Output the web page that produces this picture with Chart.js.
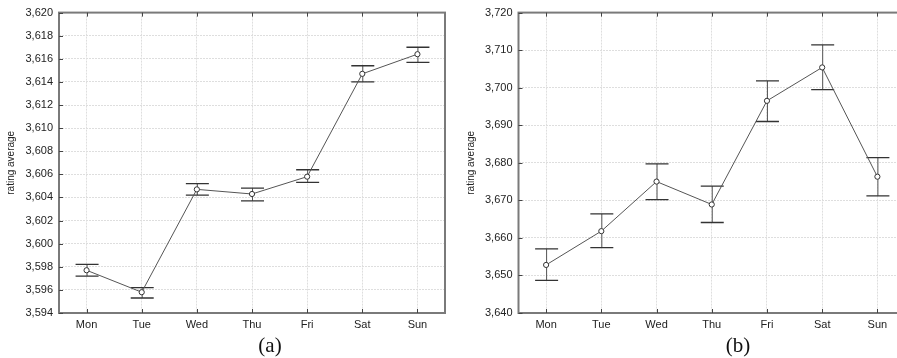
<!DOCTYPE html>
<html>
<head>
<meta charset="utf-8">
<script src="https://cdn.jsdelivr.net/npm/chart.js@4.4.1/dist/chart.umd.min.js"></script>
<style>
  html, body { margin: 0; padding: 0; background: #fff; overflow: hidden; }
  #wrap { position: relative; width: 897px; height: 358px; overflow: hidden; }
  #boxA { position: absolute; left: 0; top: 0; width: 450px; height: 358px; }
  #boxB { position: absolute; left: 450px; top: 0; width: 460px; height: 358px; }
  .cap { position: absolute; top: 333px; font-family: "Liberation Serif", "Times New Roman", serif;
         font-size: 21px; color: #111; transform: translateX(-50%); }
</style>
</head>
<body>
<div id="wrap">
  <div id="boxA"><canvas id="chartA" width="450" height="358"></canvas></div>
  <div id="boxB"><canvas id="chartB" width="460" height="358"></canvas></div>
  <div class="cap" style="left:270px">(a)</div>
  <div class="cap" style="left:738px">(b)</div>
</div>
<script>
var days = ["Mon", "Tue", "Wed", "Thu", "Fri", "Sat", "Sun"];

// panel (a)
var meanA = [3.5977, 3.5958, 3.6047, 3.6043, 3.6058, 3.6147, 3.6164];
var lowA  = [3.5972, 3.5953, 3.6042, 3.6037, 3.6053, 3.6140, 3.6157];
var highA = [3.5982, 3.5962, 3.6052, 3.6048, 3.6064, 3.6154, 3.6170];
var ticksA = [3.594, 3.596, 3.598, 3.600, 3.602, 3.604, 3.606, 3.608, 3.610,
              3.612, 3.614, 3.616, 3.618, 3.620];

// panel (b)
var meanB = [3.6528, 3.6618, 3.6750, 3.6689, 3.6965, 3.7054, 3.6763];
var lowB  = [3.6487, 3.6574, 3.6702, 3.6641, 3.6910, 3.6995, 3.6712];
var highB = [3.6571, 3.6664, 3.6797, 3.6738, 3.7018, 3.7114, 3.6814];
var ticksB = [3.640, 3.650, 3.660, 3.670, 3.680, 3.690, 3.700, 3.710, 3.720];

var textColor = "#222";
var frameColor = "#7a7a7a";

// error bars + plot frame with small inward ticks
var statPlugin = {
    id: "stat",
    beforeDatasetsDraw: function(chart) {
        var ctx = chart.ctx;
        var xs = chart.scales.x, ys = chart.scales.y;
        var lo = chart.options.plugins.stat.low, hi = chart.options.plugins.stat.high;
        ctx.save();
        for (var i = 0; i < lo.length; i++) {
            var x = xs.getPixelForValue(i);
            var y1 = ys.getPixelForValue(hi[i]);
            var y2 = ys.getPixelForValue(lo[i]);
            ctx.strokeStyle = "#555";
            ctx.lineWidth = 1;
            ctx.beginPath();
            ctx.moveTo(x + 0.5, y1);
            ctx.lineTo(x + 0.5, y2);
            ctx.stroke();
            ctx.strokeStyle = "#333";
            ctx.lineWidth = 1.3;
            ctx.beginPath();
            ctx.moveTo(x - 11, y1);
            ctx.lineTo(x + 12, y1);
            ctx.moveTo(x - 11, y2);
            ctx.lineTo(x + 12, y2);
            ctx.stroke();
        }
        ctx.restore();
    },
    afterDraw: function(chart) {
        var ctx = chart.ctx, a = chart.chartArea;
        var xs = chart.scales.x, ys = chart.scales.y;
        ctx.save();
        ctx.strokeStyle = frameColor;
        ctx.lineWidth = 2;
        ctx.strokeRect(a.left, a.top, a.right - a.left, a.bottom - a.top);
        ctx.strokeStyle = "#444";
        ctx.lineWidth = 1;
        ctx.beginPath();
        ys.ticks.forEach(function(t) {
            var y = Math.round(ys.getPixelForValue(t.value)) + 0.5;
            ctx.moveTo(a.left, y);
            ctx.lineTo(a.left + 4, y);
        });
        for (var i = 0; i < xs.ticks.length; i++) {
            var x = Math.round(xs.getPixelForValue(i)) + 0.5;
            ctx.moveTo(x, a.top);
            ctx.lineTo(x, a.top + 4);
            ctx.moveTo(x, a.bottom);
            ctx.lineTo(x, a.bottom - 4);
        }
        ctx.stroke();
        ctx.restore();
    }
};

function makeChart(id, mean, low, high, ticks, yWidth, titlePad, padRight) {
    var ctx = document.getElementById(id).getContext("2d");
    return new Chart(ctx, {
        type: "line",
        data: {
            labels: days,
            datasets: [{
                data: mean,
                borderColor: "#555",
                borderWidth: 1,
                backgroundColor: "#fff",
                pointRadius: 2.6,
                pointBorderWidth: 1,
                pointBorderColor: "#333",
                pointBackgroundColor: "#fff",
                tension: 0
            }]
        },
        options: {
            responsive: false,
            animation: false,
            layout: { padding: { top: 11, right: padRight, left: 0, bottom: 0 } },
            plugins: {
                legend: { display: false },
                tooltip: { enabled: false },
                stat: { low: low, high: high }
            },
            scales: {
                x: {
                    offset: true,
                    grid: { color: "#dedede", drawTicks: false, offset: false },
                    border: { display: false, dash: [2, 1] },
                    ticks: { color: textColor, font: { family: "Liberation Sans, Arial", size: 11 }, padding: 5 },
                    afterFit: function(s) { s.height = 45; }
                },
                y: {
                    min: ticks[0],
                    max: ticks[ticks.length - 1],
                    afterBuildTicks: function(s) {
                        s.ticks = ticks.map(function(v) { return { value: v }; });
                    },
                    grid: { color: "#dedede", drawTicks: false },
                    border: { display: false, dash: [2, 1] },
                    ticks: {
                        color: textColor,
                        padding: 6,
                        font: { family: "Liberation Sans, Arial", size: 11 },
                        callback: function(v) { return Number(v).toFixed(3).replace(".", ","); }
                    },
                    title: {
                        display: true,
                        text: "rating average",
                        color: textColor,
                        font: { family: "Liberation Sans, Arial", size: 10 },
                        padding: { top: titlePad, bottom: 0 }
                    },
                    afterFit: function(s) { s.width = yWidth; }
                }
            }
        },
        plugins: [statPlugin]
    });
}

makeChart("chartA", meanA, lowA, highA, ticksA, 59, 5, 2);
makeChart("chartB", meanB, lowB, highB, ticksB, 68.5, 15, 3.3);
</script>
</body>
</html>
